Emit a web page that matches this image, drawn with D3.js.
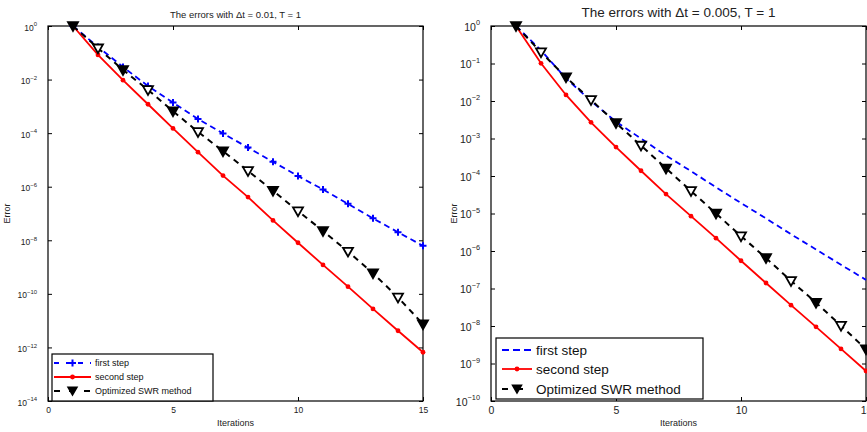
<!DOCTYPE html>
<head>
    <script src="https://d3js.org/d3.v7.js"></script>
    <style>
        body{ margin: 0; background: white; }
        svg{ font-family: "Liberation Sans", Arial, sans-serif; }
        .axis path{ display: none; }
        .axis line{ stroke: black; }
    </style>
</head>
<html>
<body>
<div id="chart"></div>
<script>
// iteration numbers, shared by both panels
const iterations = [1,2,3,4,5,6,7,8,9,10,11,12,13,14,15]

// dt = 0.01
const firstStepA = [1, 1.66e-1, 2.95e-2, 5.75e-3, 1.38e-3, 3.39e-4, 9.8e-5, 2.88e-5, 8.5e-6, 2.5e-6, 7.9e-7, 2.3e-7, 6.6e-8, 2.0e-8, 6.2e-9]
const secondStepA = [1, 8.3e-2, 9.5e-3, 1.2e-3, 1.5e-4, 1.95e-5, 2.6e-6, 4.1e-7, 5.5e-8, 8.1e-9, 1.2e-9, 1.86e-10, 2.75e-11, 4.2e-12, 6.6e-13]
const optimizedA = [1, 1.48e-1, 2.3e-2, 4.1e-3, 6.6e-4, 1.12e-4, 2.14e-5, 3.9e-6, 7.1e-7, 1.23e-7, 2.24e-8, 3.8e-9, 5.9e-10, 7.4e-11, 7.4e-12]

// dt = 0.005
const firstStepB = [1, 2.24e-1, 4.0e-2, 1.0e-2, 2.8e-3, 1.0e-3, 3.5e-4, 1.35e-4, 5.0e-5, 1.9e-5, 7.4e-6, 2.8e-6, 1.1e-6, 4.3e-7, 1.7e-7]
const secondStepB = [1, 1.01e-1, 1.45e-2, 2.7e-3, 5.9e-4, 1.38e-4, 3.3e-5, 8.5e-6, 2.2e-6, 5.5e-7, 1.4e-7, 3.6e-8, 9.5e-9, 2.45e-9, 6.3e-10]
const optimizedB = [1, 2.0e-1, 4.3e-2, 1.07e-2, 2.6e-3, 6.5e-4, 1.6e-4, 4.0e-5, 1.0e-5, 2.5e-6, 6.5e-7, 1.6e-7, 4.2e-8, 1.02e-8, 2.4e-9]

const xTicks = [0, 5, 10, 15]
const yExpA = [0, -2, -4, -6, -8, -10, -12, -14]
const yExpB = [0, -1, -2, -3, -4, -5, -6, -7, -8, -9, -10]
const legendNames = ['first step', 'second step', 'Optimized SWR method']
const titles = ['The errors with \u0394t = 0.01, T = 1', 'The errors with \u0394t = 0.005, T = 1']

const w = 867
const h = 432

const svg = d3.select('#chart').append('svg')
    .attr('width', w)
    .attr('height', h)

const panels = [
    {left: 48, right: 423, title: titles[0], yExp: yExpA, minExp: -14, fs: 8.5, titleFs: 9.5, legFs: 9,
     series: [firstStepA, secondStepA, optimizedA], blueMarks: true,
     legend: {x: 52, y: 354, w: 161, h: 47, rows: [363, 377, 391], lx0: 54, lx1: 91, tx: 95},
     titleY: 18, xlabY: 426, ylabX: 10},
    {left: 491, right: 866, title: titles[1], yExp: yExpB, minExp: -10, fs: 10.5, titleFs: 13.5, legFs: 13.5,
     series: [firstStepB, secondStepB, optimizedB], blueMarks: false,
     legend: {x: 496, y: 338, w: 207, h: 61, rows: [350, 369, 389], lx0: 502, lx1: 532, tx: 536},
     titleY: 17, xlabY: 426, ylabX: 457}
]

const plotTop = 26, plotBottom = 401

function tri(cx, cy, s){
    return 'M' + (cx - s) + ',' + (cy - s * 0.75) + 'L' + (cx + s) + ',' + (cy - s * 0.75) + 'L' + cx + ',' + (cy + s) + 'Z'
}

panels.forEach(p => {
    const x = d3.scaleLinear().domain([0, 15]).range([p.left, p.right])
    const y = d3.scaleLog().domain([Math.pow(10, p.minExp), 1]).range([plotBottom, plotTop])
    const g = svg.append('g')

    // axes, ticks pointing inward on all four sides
    const yVals = p.yExp.map(e => Math.pow(10, e))
    g.append('g').attr('class', 'axis')
        .attr('transform', 'translate(0,' + plotBottom + ')')
        .call(d3.axisBottom(x).tickValues(xTicks).tickSize(-4).tickPadding(6))
        .selectAll('text').style('font-size', p.fs + 'px').style('fill', '#222')
    g.append('g').attr('class', 'axis')
        .attr('transform', 'translate(0,' + plotTop + ')')
        .call(d3.axisTop(x).tickValues(xTicks).tickSize(-4).tickFormat(''))
    const yAx = g.append('g').attr('class', 'axis')
        .attr('transform', 'translate(' + p.left + ',0)')
        .call(d3.axisLeft(y).tickValues(yVals).tickSize(-4).tickPadding(10).tickFormat(''))
    g.append('g').attr('class', 'axis')
        .attr('transform', 'translate(' + p.right + ',0)')
        .call(d3.axisRight(y).tickValues(yVals).tickSize(-4).tickFormat(''))

    // y tick labels as 10 with superscript exponent
    yAx.selectAll('.tick').each(function(d){
        const e = Math.round(Math.log10(d))
        const t = d3.select(this).select('text')
            .attr('x', -11).attr('dy', null).attr('y', 4)
            .style('font-size', p.fs + 'px').style('fill', '#222')
            .attr('text-anchor', 'end')
        t.text('')
        t.append('tspan').text('10')
        t.append('tspan').attr('dy', -p.fs * 0.5).style('font-size', (p.fs * 0.7) + 'px')
            .text(e === 0 ? '0' : '\u2212' + Math.abs(e))
    })

    // frame
    g.append('rect')
        .attr('x', p.left).attr('y', plotTop)
        .attr('width', p.right - p.left).attr('height', plotBottom - plotTop)
        .attr('fill', 'none').attr('stroke', 'black').attr('stroke-width', 1.2)

    const line = d3.line().x((d, i) => x(iterations[i])).y(d => y(d))

    // first step
    g.append('path').datum(p.series[0]).attr('d', line)
        .attr('fill', 'none').attr('stroke', '#0000ff').attr('stroke-width', 1.8)
        .attr('stroke-dasharray', '6,4')
    if(p.blueMarks){
        g.selectAll('.plus').data(p.series[0]).enter().append('path')
            .attr('d', (d, i) => {
                const cx = x(iterations[i]), cy = y(d)
                return 'M' + (cx - 3.5) + ',' + cy + 'H' + (cx + 3.5) + 'M' + cx + ',' + (cy - 3.5) + 'V' + (cy + 3.5)
            })
            .attr('stroke', '#0000ff').attr('stroke-width', 2)
    }

    // second step
    g.append('path').datum(p.series[1]).attr('d', line)
        .attr('fill', 'none').attr('stroke', '#ff0000').attr('stroke-width', 1.8)
    g.selectAll('.dot').data(p.series[1]).enter().append('circle')
        .attr('cx', (d, i) => x(iterations[i])).attr('cy', d => y(d))
        .attr('r', 2.4).attr('fill', '#ff0000')

    // optimized
    g.append('path').datum(p.series[2]).attr('d', line)
        .attr('fill', 'none').attr('stroke', 'black').attr('stroke-width', 2)
        .attr('stroke-dasharray', '6,5')
    g.selectAll('.tri').data(p.series[2]).enter().append('path')
        .attr('d', (d, i) => tri(x(iterations[i]), y(d), 5))
        .attr('fill', (d, i) => i % 2 === 0 ? 'black' : 'white')
        .attr('stroke', 'black').attr('stroke-width', 1.8)

    // title and labels
    svg.append('text').attr('x', (p.left + p.right) / 2).attr('y', p.titleY)
        .attr('text-anchor', 'middle').style('font-size', p.titleFs + 'px').style('fill', '#222')
        .text(p.title)
    svg.append('text').attr('x', (p.left + p.right) / 2).attr('y', p.xlabY)
        .attr('text-anchor', 'middle').style('font-size', '9px').style('fill', '#222')
        .text('Iterations')
    svg.append('text')
        .attr('transform', 'translate(' + p.ylabX + ',' + ((plotTop + plotBottom) / 2) + ') rotate(-90)')
        .attr('text-anchor', 'middle').style('font-size', '9px').style('fill', '#222')
        .text('Error')

    // legend
    const L = p.legend
    svg.append('rect').attr('x', L.x).attr('y', L.y).attr('width', L.w).attr('height', L.h)
        .attr('fill', 'white').attr('stroke', 'black').attr('stroke-width', 1.2)
    const mid = (L.lx0 + L.lx1) / 2
    // blue sample
    svg.append('line').attr('x1', L.lx0).attr('x2', L.lx1).attr('y1', L.rows[0]).attr('y2', L.rows[0])
        .attr('stroke', '#0000ff').attr('stroke-width', 1.8).attr('stroke-dasharray', p.blueMarks ? '5,7' : '7,4')
    if(p.blueMarks){
        svg.append('path')
            .attr('d', 'M' + (mid - 3.5) + ',' + L.rows[0] + 'H' + (mid + 3.5) + 'M' + mid + ',' + (L.rows[0] - 3.5) + 'V' + (L.rows[0] + 3.5))
            .attr('stroke', '#0000ff').attr('stroke-width', 2)
    }
    // red sample
    svg.append('line').attr('x1', L.lx0).attr('x2', L.lx1).attr('y1', L.rows[1]).attr('y2', L.rows[1])
        .attr('stroke', '#ff0000').attr('stroke-width', 1.8)
    svg.append('circle').attr('cx', mid).attr('cy', L.rows[1]).attr('r', 2.4).attr('fill', '#ff0000')
    // black sample
    svg.append('line').attr('x1', L.lx0).attr('x2', L.lx1).attr('y1', L.rows[2]).attr('y2', L.rows[2])
        .attr('stroke', 'black').attr('stroke-width', 2).attr('stroke-dasharray', '6,9')
    svg.append('path').attr('d', tri(mid, L.rows[2] - 0.5, 4.5)).attr('fill', 'black')
        .attr('stroke', 'black').attr('stroke-width', 1.5)

    legendNames.forEach((n, i) => {
        svg.append('text').attr('x', L.tx).attr('y', L.rows[i] + p.legFs * 0.35)
            .style('font-size', p.legFs + 'px').style('fill', '#111')
            .text(n)
    })
})
</script>
</body>
</html>
